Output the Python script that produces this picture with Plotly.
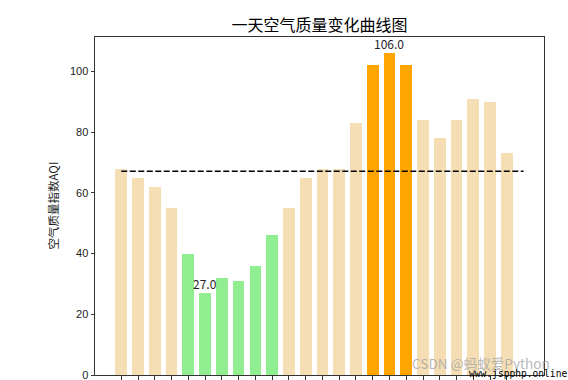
import plotly.graph_objects as go

hours = list(range(24))
aqi = [68, 65, 62, 55, 40, 27, 32, 31, 36, 46, 55, 65,
       68, 68, 83, 102, 106, 102, 84, 78, 84, 91, 90, 73]
y_ticks = [0, 20, 40, 60, 80, 100]

title_text = "一天空气质量变化曲线图"
ylabel_text = "空气质量指数AQI"

mean_val = sum(aqi) / len(aqi)
colors = []
for v in aqi:
    if v < 50:
        colors.append("#90EE90")
    elif v > 100:
        colors.append("#FFA500")
    else:
        colors.append("#F5DEB3")

imin = aqi.index(min(aqi))
imax = aqi.index(max(aqi))

W, H = 568, 380
L, R, T, B = 95, 24, 37, 5
pw, ph = W - L - R, H - T - B

fig = go.Figure()
fig.add_trace(go.Bar(x=hours, y=aqi, width=0.7, marker=dict(color=colors, line=dict(width=0)),
                     hoverinfo="x+y"))
fig.add_trace(go.Scatter(x=[0, 24], y=[mean_val, mean_val], mode="lines",
                         line=dict(color="black", width=1.5, dash="6px,2.5px")))

cjk = "Noto Sans CJK SC"
for i in (imin, imax):
    fig.add_annotation(x=hours[i], y=aqi[i], text=f"{aqi[i]:.1f}", showarrow=False,
                       yanchor="bottom", xanchor="center", yshift=-1,
                       font=dict(family=cjk, size=12, color="#222"))

# y-axis label
fig.add_annotation(xref="paper", yref="paper", x=(52.5 - L) / pw, y=(H - B - 206) / ph,
                   text=ylabel_text, textangle=-90, showarrow=False,
                   xanchor="center", yanchor="middle",
                   font=dict(family=cjk, size=11.5, color="#222"))

# watermarks
fig.add_annotation(xref="paper", yref="paper", x=(481 - L) / pw, y=(H - B - 363) / ph,
                   text="CSDN @蚂蚁爱Python",
                   showarrow=False, xanchor="center", yanchor="middle",
                   font=dict(family=cjk, size=13.6, color="rgba(165,165,165,0.8)"))
fig.add_annotation(xref="paper", yref="paper", x=(467 - L) / pw, y=(H - B - 373) / ph,
                   text="www.jspphp.online",
                   showarrow=False, xanchor="left", yanchor="middle",
                   font=dict(family="DejaVu Sans Mono", size=9.6, color="black"))

fig.update_layout(
    width=W, height=H,
    margin=dict(l=L, r=R, t=T, b=B, autoexpand=False),
    paper_bgcolor="white", plot_bgcolor="white",
    showlegend=False,
    bargap=0,
    title=dict(text=title_text, x=(L + W - R) / 2 / W, xanchor="center",
               y=1 - 25 / H, yanchor="middle",
               font=dict(family=cjk, size=16, color="black")),
    xaxis=dict(range=[-1.5675, 25.2175], tickmode="array", tickvals=hours,
               showticklabels=False, ticks="outside", ticklen=3.5, tickwidth=1,
               tickcolor="#333", showline=True, linecolor="#333", linewidth=1,
               mirror=True, showgrid=False, zeroline=False, automargin=False),
    yaxis=dict(range=[0, 111.3], tickmode="array", tickvals=y_ticks,
               ticks="outside", ticklen=3.5, tickwidth=1, tickcolor="#333",
               tickfont=dict(family="Liberation Sans", size=11, color="#222"),
               ticklabeloverflow="allow",
               showline=True, linecolor="#333", linewidth=1, mirror=True,
               showgrid=False, zeroline=False, automargin=False),
)

fig.write_html("out.html", config={"displayModeBar": False},
               post_script="document.body.style.margin='0px';document.body.style.overflow='hidden';")
